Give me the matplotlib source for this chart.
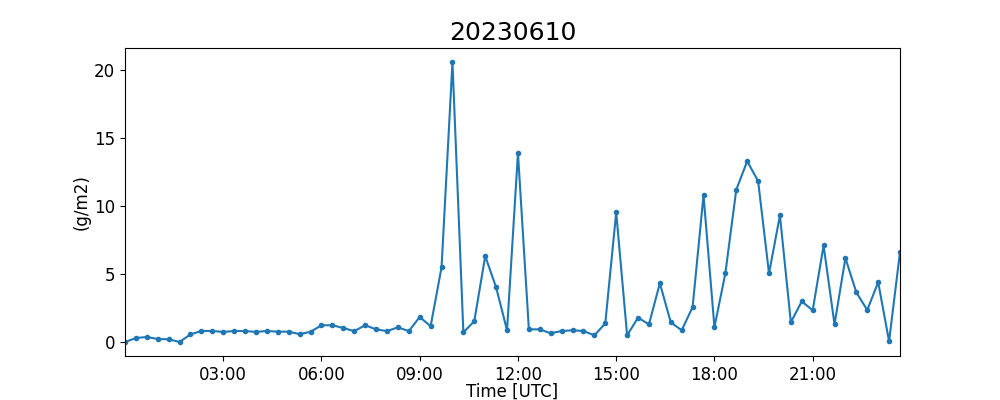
import datetime as dt

import matplotlib
matplotlib.use("Agg")
import matplotlib.dates as mdates
import matplotlib.pyplot as plt

# 20-minute samples starting 2023-06-10 00:00 UTC
start = dt.datetime(2023, 6, 10, 0, 0)
step_min = 20
values = [
    0.0, 0.29, 0.37, 0.22, 0.2, 0.0, 0.56, 0.81, 0.81, 0.74,
    0.81, 0.81, 0.74, 0.81, 0.76, 0.76, 0.58, 0.75, 1.23, 1.23,
    1.03, 0.8, 1.23, 0.93, 0.8, 1.08, 0.8, 1.84, 1.16, 5.5,
    20.6, 0.71, 1.53, 6.32, 4.02, 0.86, 13.9, 0.93, 0.93, 0.64,
    0.81, 0.86, 0.81, 0.49, 1.37, 9.54, 0.49, 1.79, 1.3, 4.32,
    1.45, 0.86, 2.57, 10.8, 1.09, 5.05, 11.2, 13.3, 11.84, 5.05,
    9.31, 1.45, 2.99, 2.33, 7.1, 1.3, 6.17, 3.65, 2.35, 4.4,
    0.05, 6.62,
]
times = [start + dt.timedelta(minutes=step_min * i) for i in range(len(values))]

title = "20230610"
xlabel = "Time [UTC]"
ylabel = "(g/m2)"

fig, ax = plt.subplots(figsize=(10, 4), dpi=100)
ax.plot(times, values, marker="o", markersize=3, linewidth=1.5, color="C0")
ax.set_xlim(times[0], times[-1])
ax.xaxis.set_major_locator(mdates.HourLocator(byhour=range(3, 24, 3)))
ax.xaxis.set_major_formatter(mdates.DateFormatter("%H:%M"))
ax.tick_params(labelsize=12)
ax.set_xlabel(xlabel, fontsize=12, labelpad=-0.5)
ax.set_ylabel(ylabel, fontsize=12, labelpad=2.5)
ax.set_title(title, fontsize=18)

fig.savefig("out.png", dpi=100)
